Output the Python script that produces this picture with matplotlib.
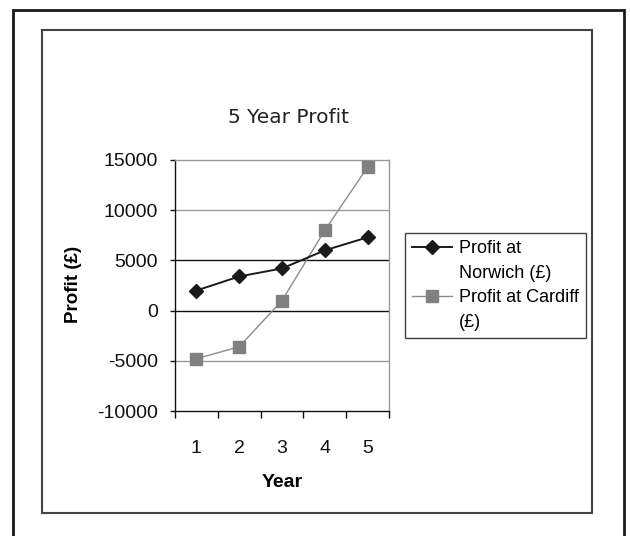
import matplotlib
matplotlib.use("Agg")
import matplotlib.pyplot as plt
from matplotlib.lines import Line2D
from matplotlib.patches import Rectangle

# chart data
years = [1, 2, 3, 4, 5]
norwich = [2000, 3400, 4200, 6000, 7300]
cardiff = [-4800, -3600, 1000, 8000, 14300]
y_ticks = [-10000, -5000, 0, 5000, 10000, 15000]
norwich_label = ["Profit at", "Norwich (£)"]
cardiff_label = ["Profit at Cardiff", "(£)"]
title = "5 Year Profit"

W, H = 630, 536
plt.rcParams['font.family'] = ['Liberation Sans', 'DejaVu Sans']

fig = plt.figure(figsize=(W / 100, H / 100), dpi=100)
fig.patch.set_facecolor("white")


def px(x, y):
    # pixel coords (top-left origin) -> figure fraction
    return x / W, 1 - y / H


# outer frame and inner chart box
fig.add_artist(Rectangle(px(12.5, 540), 611 / W, 530 / H, transform=fig.transFigure,
                         fill=False, edgecolor="#1a1a1a", linewidth=2.0, clip_on=False))
fig.add_artist(Rectangle(px(42, 513), 550 / W, 483 / H, transform=fig.transFigure,
                         fill=False, edgecolor="#444444", linewidth=1.5))

# plot area
left, top = px(175, 160)
right, bottom = px(389, 411)
ax = fig.add_axes([left, bottom, right - left, top - bottom])

ax.set_xlim(0.5, 5.5)
ax.set_ylim(y_ticks[0], y_ticks[-1])

# horizontal grid: black at 0 and 5000, grey elsewhere
for v in y_ticks[1:-1]:
    col = "#111111" if v in (0, 5000) else "#999999"
    ax.axhline(v, color=col, linewidth=1.0, zorder=1)

ax.plot(years, cardiff, color="#8c8c8c", linewidth=1.0, marker="s", markersize=9,
        markerfacecolor="#808080", markeredgecolor="#808080", zorder=3)
ax.plot(years, norwich, color="#1a1a1a", linewidth=1.4, marker="D", markersize=6.8,
        markerfacecolor="#1a1a1a", markeredgecolor="#1a1a1a", zorder=4)

for side in ("top", "right"):
    ax.spines[side].set_color("#999999")
    ax.spines[side].set_linewidth(1.0)
for side in ("left", "bottom"):
    ax.spines[side].set_color("#111111")
    ax.spines[side].set_linewidth(1.0)

ax.set_yticks(y_ticks)
ax.set_yticklabels([str(v) for v in y_ticks])
ax.tick_params(axis="y", direction="out", length=3.6, width=1, pad=8.5,
               labelsize=14, colors="#111111")

ax.set_xticks(years)
ax.set_xticks([y - 0.5 for y in years] + [years[-1] + 0.5], minor=True)
ax.tick_params(axis="x", which="major", length=0, pad=21, labelsize=14, colors="#111111")
ax.tick_params(axis="x", which="minor", direction="out", length=5, width=1, color="#111111")

ax.set_xlabel("Year", fontsize=14, fontweight="bold")
ax.xaxis.set_label_coords(0.5, -0.25)
ax.set_ylabel("Profit (£)", fontsize=13.5, fontweight="bold")
ax.yaxis.set_label_coords(-0.435, 0.505)

tx, ty = px(289, 123)
fig.text(tx, ty, title, ha="center", va="baseline", fontsize=14.5, family="DejaVu Sans",
         color="#222222")

# legend: first label line next to the marker, second line on its own row
handles = [
    Line2D([], [], color="#1a1a1a", linewidth=1.4, marker="D", markersize=6.8),
    Line2D([], [], alpha=0),
    Line2D([], [], color="#8c8c8c", linewidth=1.0, marker="s", markersize=9,
           markerfacecolor="#808080", markeredgecolor="#808080"),
    Line2D([], [], alpha=0),
]
labels = norwich_label + cardiff_label
lx, ly = px(405, 233)
leg = fig.legend(handles, labels, loc="upper left", bbox_to_anchor=(lx, ly),
                 bbox_transform=fig.transFigure, borderaxespad=0, fontsize=13,
                 frameon=True, fancybox=False, shadow=False, numpoints=1,
                 handlelength=2.2, handletextpad=0.4, borderpad=0.4, labelspacing=0.42)
leg.get_frame().set_edgecolor("#111111")
leg.get_frame().set_linewidth(1.0)

fig.savefig("out.png", dpi=100, facecolor="white")
